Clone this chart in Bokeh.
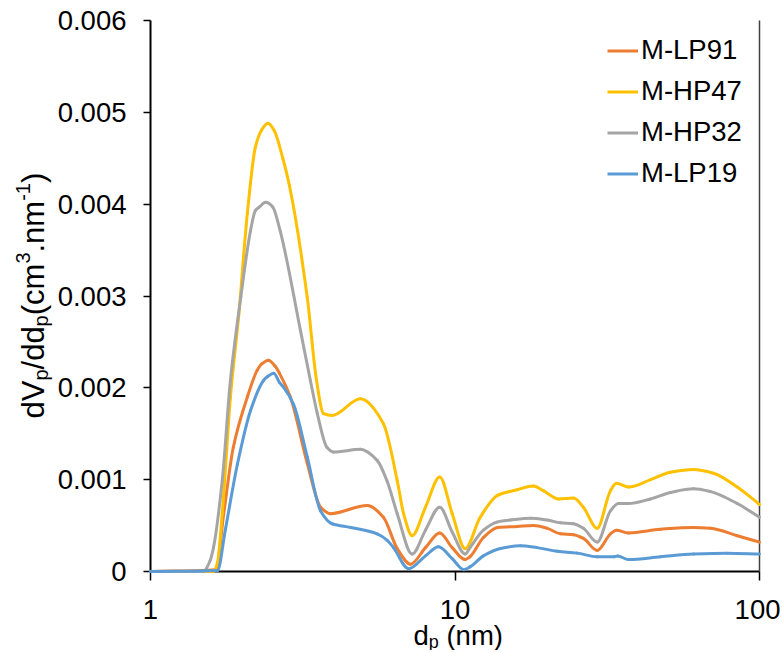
import math
import numpy as np
from bokeh.plotting import figure
from bokeh.models import (LinearAxis, FixedTicker, NumeralTickFormatter, Label,
                          Legend, LegendItem)
from bokeh.embed import file_html
from bokeh.resources import INLINE

# ---------------- data ----------------
series_names = ["M-LP91", "M-HP47", "M-HP32", "M-LP19"]
series_colors = ["#ED7D31", "#FFC000", "#A5A5A5", "#5B9BD5"]

lp91_x = [1, 1.64, 1.74, 1.87, 2.08, 2.24, 2.32, 2.44, 2.56, 2.65,
          2.88, 3.27, 3.62, 3.90, 5.15, 5.82, 6.46, 7.14, 8.0, 8.91,
          9.79, 10.8, 11.2, 12.4, 13.8, 16.0, 18.1, 20.1, 22.2, 24.5,
          26.4, 29.3, 32.4, 33.9, 37.1, 47.3, 60.7, 69.1, 84.5, 100]
lp91_y = [0, 0.00002, 0.00063, 0.00135, 0.0019, 0.00219, 0.00226, 0.0023, 0.00224, 0.00216,
          0.0019, 0.00118, 0.0007, 0.00063, 0.00072, 0.00059, 0.00025, 0.00008, 0.00026, 0.00042,
          0.00026, 0.00013, 0.00016, 0.00037, 0.00048, 0.00049, 0.0005, 0.00047, 0.00041, 0.0004,
          0.00036, 0.00023, 0.00041, 0.00045, 0.00042, 0.00046, 0.00048, 0.00047, 0.00039, 0.00032]

hp47_x = [1, 1.61, 1.66, 1.72, 1.83, 1.95, 2.08, 2.21, 2.31, 2.43,
          2.55, 2.72, 2.86, 3.27, 3.51, 3.70, 3.95, 4.89, 5.82, 6.46,
          6.78, 7.23, 8.0, 8.91, 9.79, 10.8, 12.1, 13.8, 16.0, 18.1,
          19.5, 21.9, 24.5, 26.4, 29.3, 32.4, 33.9, 37.1, 43.9, 51.0,
          60.7, 70.6, 84.5, 100]
hp47_y = [0, 0, 0.0001, 0.00063, 0.0019, 0.0028, 0.0039, 0.00462, 0.0048, 0.00488,
          0.0048, 0.0045, 0.0042, 0.00299, 0.00208, 0.00172, 0.0017, 0.00188, 0.00161, 0.00099,
          0.00063, 0.00039, 0.0007, 0.00103, 0.00063, 0.00025, 0.00059, 0.00083, 0.00089, 0.00093,
          0.00088, 0.00079, 0.0008, 0.0007, 0.00047, 0.00088, 0.00096, 0.00092, 0.001, 0.00108,
          0.00111, 0.00107, 0.00092, 0.00073]

hp32_x = [1, 1.49, 1.57, 1.61, 1.72, 1.83, 1.98, 2.13, 2.21, 2.28,
          2.39, 2.52, 2.67, 3.11, 3.35, 3.53, 3.80, 3.99, 4.89, 5.55,
          5.99, 6.46, 7.23, 8.0, 8.91, 9.79, 10.8, 11.2, 12.4, 13.8,
          15.2, 17.7, 20.1, 22.2, 24.5, 26.4, 29.3, 32.4, 34.4, 37.1,
          43.9, 51.0, 60.7, 69.1, 84.5, 100]
hp32_y = [0, 0, 0.00012, 0.00026, 0.00099, 0.00208, 0.00299, 0.00371, 0.00393, 0.00397,
          0.00402, 0.00397, 0.0037, 0.00262, 0.00208, 0.00172, 0.00135, 0.0013, 0.00133, 0.00121,
          0.00098, 0.00063, 0.00019, 0.00045, 0.0007, 0.00043, 0.00019, 0.00026, 0.00045, 0.00054,
          0.00056, 0.00058, 0.00056, 0.00053, 0.00052, 0.00047, 0.00032, 0.00066, 0.00074, 0.00074,
          0.00079, 0.00086, 0.0009, 0.00087, 0.00074, 0.00059]

lp19_x = [1, 1.66, 1.76, 1.93, 2.13, 2.35, 2.42, 2.54, 2.65, 2.73,
          2.95, 3.27, 3.62, 3.95, 4.54, 5.55, 5.99, 6.28, 7.04, 8.0,
          8.83, 9.79, 10.7, 11.2, 12.4, 14.1, 16.4, 18.6, 21.7, 25.2,
          29.3, 33.2, 34.2, 37.1, 47.3, 60.7, 78.3, 100]
lp19_y = [0, 0.00001, 0.00045, 0.00117, 0.00175, 0.00208, 0.00212, 0.00216, 0.00206, 0.00201,
          0.00182, 0.00125, 0.00066, 0.00052, 0.00048, 0.00041, 0.00034, 0.00026, 0.00003, 0.00017,
          0.00027, 0.00014, 0.00002, 0.00005, 0.00017, 0.00025, 0.00028, 0.00026, 0.00022, 0.0002,
          0.00016, 0.00016, 0.00017, 0.00013, 0.00016, 0.00019, 0.0002, 0.00019]

x_ticks = [1, 10, 100]
y_ticks = [0, 0.001, 0.002, 0.003, 0.004, 0.005, 0.006]
X0, X1 = 1, 100
Y0, Y1 = 0, 0.006

# ---------------- layout (pixels on the canvas) ----------------
W, H = 780, 650
PL, PT, PW, PH = 150, 20, 609, 551     # plotting box: x=1 .. 100, y=0 .. 0.006
FONT = "Liberation Sans"
TICK_FS = "27.5px"

dec_px = PW / math.log10(X1 / X0)
x_start = 10 ** (math.log10(X0) - PL / dec_px)
x_end = 10 ** (math.log10(X0) + (W - PL) / dec_px)
y_per_px = (Y1 - Y0) / PH
y_end = Y1 + PT * y_per_px
y_start = Y0 - (H - PT - PH) * y_per_px


def fx(px):
    return 10 ** (math.log10(X0) + (px - PL) / dec_px)


def fy(py):
    return Y0 + (PT + PH - py) * y_per_px


p = figure(width=W, height=H, x_axis_type="log", x_range=(x_start, x_end),
           y_range=(y_start, y_end), output_backend="svg", toolbar_location=None,
           min_border=0)
p.outline_line_color = None
p.xgrid.visible = False
p.ygrid.visible = False
p.background_fill_color = "white"
p.border_fill_color = "white"

# axes, pinned inside the frame
xa = p.xaxis[0]
xa.ticker = FixedTicker(ticks=x_ticks)
xa.formatter = NumeralTickFormatter(format="0")
xa.fixed_location = Y0
xa.bounds = (X0, X1)
ya = p.yaxis[0]
ya.ticker = FixedTicker(ticks=y_ticks)
ya.formatter = NumeralTickFormatter(format="0.[000]")
ya.fixed_location = X0
ya.bounds = (Y0, Y1)
for ax, tout, stand in ((xa, 9, 19), (ya, 7, 17)):
    ax.axis_line_color = "#000000"
    ax.axis_line_width = 2
    ax.major_tick_line_color = "#000000"
    ax.major_tick_line_width = 1.5
    ax.major_tick_out = tout
    ax.major_tick_in = 0
    ax.minor_tick_line_color = None
    ax.major_label_text_font = FONT
    ax.major_label_text_font_size = TICK_FS
    ax.major_label_text_color = "#000000"
    ax.major_label_standoff = stand

ra = LinearAxis(ticker=FixedTicker(ticks=[]), axis_line_color="#404040",
                axis_line_width=1.5, major_tick_line_color=None,
                minor_tick_line_color=None, major_label_text_font_size="0px",
                fixed_location=X1, bounds=(Y0, Y1))
p.add_layout(ra, "right")


# smoothed rendering of the read points: one cubic Bezier segment between each
# pair of consecutive points, monotone (PCHIP) tangents so nothing overshoots
def smooth_segments(x, y):
    u = np.log10(np.asarray(x, dtype=float))
    v = np.asarray(y, dtype=float)
    h = np.diff(u)
    d = np.diff(v) / h
    n = len(u)
    m = np.zeros(n)
    m[0], m[-1] = d[0], d[-1]
    for i in range(1, n - 1):
        if d[i - 1] * d[i] <= 0:
            m[i] = 0.0
        else:
            w1 = 2 * h[i] + h[i - 1]
            w2 = h[i] + 2 * h[i - 1]
            m[i] = (w1 + w2) / (w1 / d[i - 1] + w2 / d[i])
    c0u = u[:-1] + h / 3.0
    c0v = v[:-1] + m[:-1] * h / 3.0
    c1u = u[1:] - h / 3.0
    c1v = v[1:] - m[1:] * h / 3.0
    return dict(x0=10 ** u[:-1], y0=v[:-1], x1=10 ** u[1:], y1=v[1:],
                cx0=10 ** c0u, cy0=c0v, cx1=10 ** c1u, cy1=c1v)


xs = [lp91_x, hp47_x, hp32_x, lp19_x]
ys = [lp91_y, hp47_y, hp32_y, lp19_y]
items = []
for name, col, x, y in zip(series_names, series_colors, xs, ys):
    seg = smooth_segments(x, y)
    r = p.bezier(x0=seg["x0"], y0=seg["y0"], x1=seg["x1"], y1=seg["y1"],
                 cx0=seg["cx0"], cy0=seg["cy0"], cx1=seg["cx1"], cy1=seg["cy1"],
                 line_color=col, line_width=3, line_cap="round")
    r.level = "annotation"
    # single-point line: draws nothing in the plot, gives the legend its key
    key = p.line(x=x[:1], y=y[:1], line_color=col, line_width=3)
    items.append(LegendItem(label=name, renderers=[key]))

ITEM_H, GAP = 31, 9
leg_h = 4 * ITEM_H + 3 * GAP
legend = Legend(items=items, location=(607, H - 38 - leg_h), padding=0, spacing=GAP,
                glyph_width=31, glyph_height=ITEM_H, label_height=ITEM_H, label_standoff=3,
                label_text_font=FONT, label_text_font_size=TICK_FS,
                label_text_color="#000000", border_line_color=None,
                background_fill_alpha=0, margin=0)
p.add_layout(legend)

# ---------------- axis titles with sub/superscripts ----------------
EM = {'d': .556, 'V': .667, 'p': .556, '/': .278, '(': .333, 'c': .5, 'm': .833,
      '3': .556, '.': .278, 'n': .556, '-': .333, '1': .556, ')': .333, ' ': .278}


def tw(s, size):
    return sum(EM[c] for c in s) * size


# y title (rotated, reading upward)
YF, YS = 31, 20
y_pieces = [("dV", 'n'), ("p", 'sub'), ("/dd", 'n'), ("p", 'sub'), ("(cm", 'n'),
            ("3", 'sup'), (".nm", 'n'), ("-1", 'sup'), (")", 'n')]
base_x = 33
cur = 418
for t, kind in y_pieces:
    size = YF if kind == 'n' else YS
    shift = {'n': 0, 'sub': 7, 'sup': -11}[kind]
    p.add_layout(Label(x=fx(base_x + shift), y=fy(cur), text=t, angle=math.pi / 2,
                       text_align="left", text_baseline="alphabetic",
                       text_font=FONT, text_font_size=f"{size}px", text_color="#000000"))
    cur -= tw(t, size)

# x title
XF, XS = 27.5, 18
x_pieces = [("d", 'n'), ("p", 'sub'), (" ", 'gap'), ("(nm)", 'n')]
curx = 413
base_y = 635
for t, kind in x_pieces:
    if kind == 'gap':
        curx += tw(t, XF)
        continue
    size = XF if kind == 'n' else XS
    shift = 6 if kind == 'sub' else 0
    p.add_layout(Label(x=fx(curx), y=fy(base_y + shift), text=t,
                       text_align="left", text_baseline="alphabetic",
                       text_font=FONT, text_font_size=f"{size}px", text_color="#000000"))
    curx += tw(t, size)

open("out.html", "w").write(file_html(p, INLINE))
